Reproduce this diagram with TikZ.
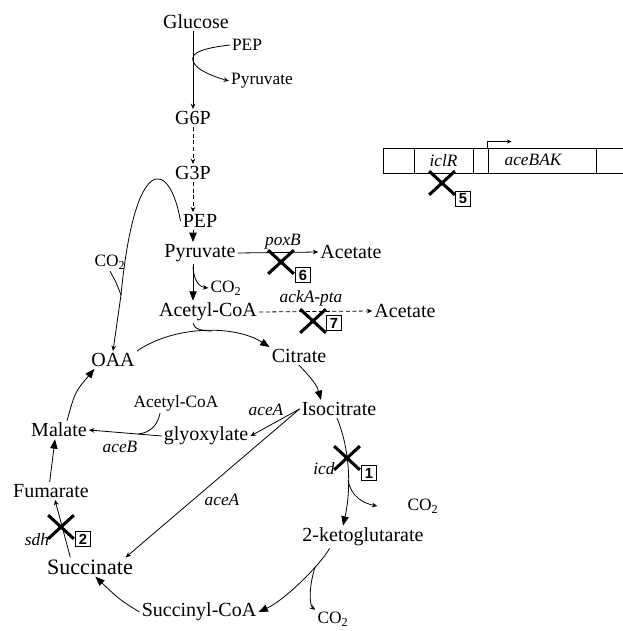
\documentclass[tikz,border=0pt]{standalone}
\usepackage{fontspec}
\setmainfont{Liberation Serif}
\newfontfamily\tagfont{Liberation Sans}
\usetikzlibrary{arrows.meta, shapes.misc}

\begin{document}
\begin{tikzpicture}[x=0.75pt, y=-0.75pt]
            \tikzstyle{Metabolite} = [inner sep=1.5pt, font=\fontsize{15}{18}\selectfont]
            \tikzstyle{Small} = [inner sep=1.5pt, font=\fontsize{13}{15}\selectfont]
            \tikzstyle{Gene} = [inner sep=1pt, font=\fontsize{13}{15}\selectfont\itshape]
            \tikzstyle{Segment} = [draw, line width=0.6pt, inner sep=0pt, minimum height=18.75pt, font=\fontsize{13}{15}\selectfont\itshape]
            \tikzstyle{Knockout} = [draw, cross out, line width=2.3pt, inner sep=0pt, minimum width=17pt, minimum height=15.5pt]
            \tikzstyle{Tag} = [draw, line width=0.6pt, inner sep=0pt, minimum size=11pt, font=\tagfont\bfseries\fontsize{11}{11}\selectfont]
            \tikzstyle{Flux} = [line width=0.6pt, -{Triangle[length=7pt, width=5.5pt]}]
            \tikzstyle{Thin Flux} = [line width=0.6pt, -{Stealth[length=4pt, width=3.5pt]}]
            \tikzstyle{Dashed Flux} = [Thin Flux, dashed, dash pattern=on 3pt off 2pt]
            \useasboundingbox (0,0) rectangle (623,631);
            \node[Metabolite] (glc) at (196,22) {Glucose};
            \node[Small] (pep1) at (247,45) {PEP};
            \node[Small] (pyr1) at (262,81) {Pyruvate};
            \node[Metabolite] (g6p) at (193,118) {G6P};
            \node[Metabolite] (g3p) at (193,173) {G3P};
            \node[Metabolite] (pep) at (200,221) {PEP};
            \node[Metabolite] (pyr) at (200,253) {Pyruvate};
            \node[Metabolite] (ac1) at (351,252) {Acetate};
            \node[Small] (co2a) at (226,288) {CO\textsubscript{2}};
            \node[Metabolite] (accoa) at (208,312) {Acetyl-CoA};
            \node[Metabolite] (ac2) at (405,311) {Acetate};
            \node[Small] (co2b) at (110,262) {CO\textsubscript{2}};
            \node[Metabolite] (oaa) at (113,360) {OAA};
            \node[Metabolite] (cit) at (299,356) {Citrate};
            \node[Metabolite] (icit) at (339,409) {Isocitrate};
            \node[Small] (accoa2) at (176,403) {Acetyl-CoA};
            \node[Metabolite] (glx) at (206,436) {glyoxylate};
            \node[Metabolite] (mal) at (59,430) {Malate};
            \node[Metabolite] (fum) at (51,491) {Fumarate};
            \node[Metabolite, font=\fontsize{16.5}{19}\selectfont] (suc) at (90,567) {Succinate};
            \node[Metabolite] (succoa) at (199,612) {Succinyl-CoA};
            \node[Metabolite] (akg) at (363,537) {2-ketoglutarate};
            \node[Small] (co2c) at (423,506) {CO\textsubscript{2}};
            \node[Small] (co2d) at (333,619) {CO\textsubscript{2}};
            \node[Gene] (poxB) at (283,242) {poxB};
            \node[Gene] (ackA) at (311,298) {ackA-pta};
            \node[Gene] (aceA1) at (266,410) {aceA};
            \node[Gene] (aceB) at (120,447) {aceB};
            \node[Gene] (aceA2) at (222,500) {aceA};
            \node[Gene] (icd) at (324,469) {icd};
            \node[Gene] (sdh) at (37,540) {sdh};
            \node[Segment, minimum width=23.25pt] (seg1) at (398.5,160.5) {};
            \node[Segment, minimum width=44.25pt] (iclR) at (443.5,160.5) {iclR};
            \node[Segment, minimum width=11.25pt] (seg3) at (480.5,160.5) {};
            \node[Segment, minimum width=81pt] (aceBAK) at (542,160.5) {};
            \node[Gene] (bak) at (533,160) {aceBAK};
            \node[Segment, minimum width=20.25pt] (seg5) at (609.5,160.5) {};
            \draw[Thin Flux] (glc.south -| g6p) -- (g6p.north);
            \draw[Thin Flux] (pep1.west) .. controls (205,48) and (190,52) .. (193,61) .. controls (196,70) and (212,76) .. (pyr1.west);
            \draw[Dashed Flux] (g6p) -- (g3p);
            \draw[Dashed Flux] (g3p.south) -- (g3p.south |- pep.north);
            \draw[Flux] (pep.south -| g6p) -- (pyr.north -| g6p);
            \draw[Thin Flux] (pyr.east) -- (ac1.west);
            \draw[Flux] (pyr.south -| g6p) -- (accoa.north -| g6p);
            \coordinate (br1) at (193,267);
            \draw[Thin Flux] (br1) .. controls (194,282) and (200,287) .. (co2a.west);
            \draw[Dashed Flux] (accoa.east) -- (ac2.west);
            \coordinate (mrg) at (121,295);
            \draw[line width=0.6pt] (pep.west) .. controls (170,160) and (135,150) .. (mrg);
            \draw[line width=0.6pt] (co2b.south) .. controls (116,282) .. (mrg);
            \draw[Thin Flux] (mrg) -- (oaa.north);
            \draw[Flux] (oaa.north east) .. controls (175,325) and (235,325) .. (cit.north west);
            \coordinate (join1) at (212,331);
            \draw[line width=0.6pt] (accoa.south -| g6p) .. controls (194,329) and (202,331) .. (join1);
            \draw[Flux] (cit.south) .. controls (305,372) and (316,382) .. ([xshift=-13.5pt]icit.north);
            \draw[Thin Flux] (icit.west) -- (glx.east);
            \draw[Thin Flux] (icit.west) -- ([xshift=-7pt]suc.north east);
            \draw[Thin Flux] (glx.west) -- (mal.east);
            \coordinate (join2) at (138,434);
            \draw[line width=0.6pt] ([xshift=-12pt]accoa2.south) .. controls (158,425) and (150,433) .. (join2);
            \draw[Flux] ([xshift=6pt]mal.north) .. controls (75,392) .. ([xshift=4pt]oaa.south west);
            \draw[Flux] ([xshift=-1pt]fum.north) -- ([xshift=-3pt]mal.south);
            \draw[Thin Flux] ([xshift=19pt]suc.north west) -- ([xshift=3pt]fum.south);
            \draw[Flux] (succoa.west) .. controls (120,600) .. ([xshift=4pt]suc.south);
            \draw[Flux] ([xshift=-25pt]akg.south) .. controls (320,565) and (285,600) .. (succoa.east);
            \coordinate (br3) at (315,567);
            \draw[Thin Flux] (br3) .. controls (308,590) and (310,606) .. (co2d.north west);
            \draw[Flux] ([xshift=-1.5pt]icit.south) .. controls (352,455) and (350,495) .. ([xshift=-15pt]akg.north);
            \coordinate (br2) at (348,480);
            \draw[Thin Flux] (br2) .. controls (351,496) and (362,503) .. ([xshift=-21pt]co2c.west);
            \draw[line width=0.6pt, -{Stealth[length=3.5pt, width=3pt]}] (aceBAK.north west) -- ++(0,-6) -- ++(24,0);
            \node[Knockout] (ko1) at (347,458) {};
            \node[Tag] (t1) at (369,473) {1};
            \node[Knockout] (ko2) at (61,527) {};
            \node[Tag] (t2) at (83,539) {2};
            \node[Knockout] (ko5) at (442,183) {};
            \node[Tag] (t5) at (463,199) {5};
            \node[Knockout] (ko6) at (281,262) {};
            \node[Tag] (t6) at (303,275) {6};
            \node[Knockout] (ko7) at (313,321) {};
            \node[Tag] (t7) at (334,323) {7};
        \end{tikzpicture}
\end{document}
